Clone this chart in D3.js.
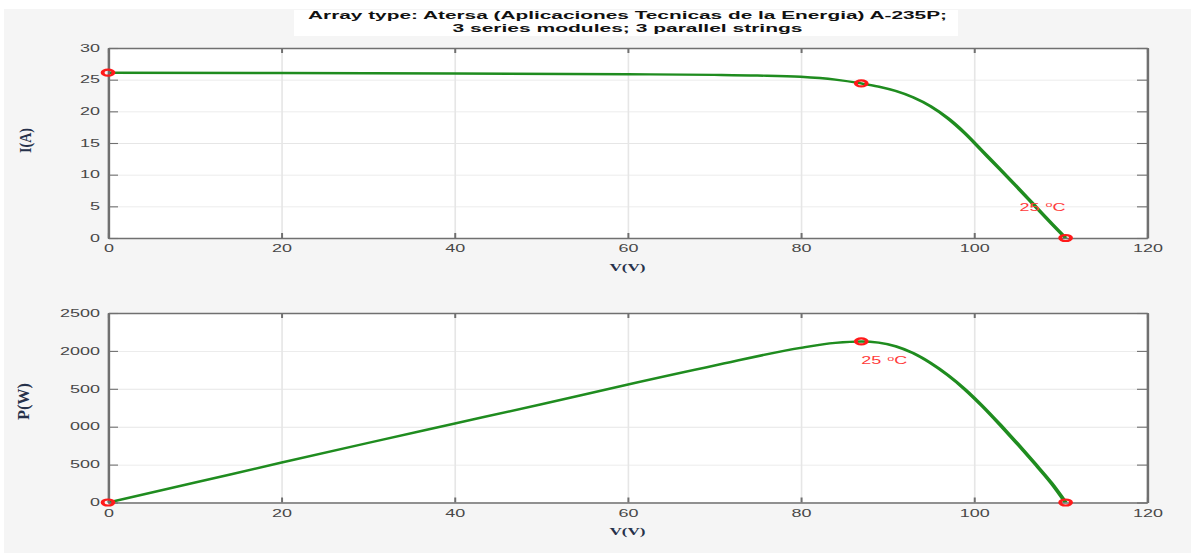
<!DOCTYPE html>
<html><head><meta charset="utf-8">
<script src="https://cdn.jsdelivr.net/npm/d3@7"></script>
<style>html,body{margin:0;padding:0;background:#fff;overflow:hidden}</style>
</head><body>
<svg id="c"></svg>
<script>
// ---------- data ----------
const titleLines = ["Array type: Atersa (Aplicaciones Tecnicas de la Energia) A-235P;", "3 series modules; 3 parallel strings"];
const xTicks = [0, 20, 40, 60, 80, 100, 120];
const iTicks = [0, 5, 10, 15, 20, 25, 30];
const pTicks = [0, 500, 1000, 1500, 2000, 2500];
const pTickLabels = ["0", "500", "000", "500", "2000", "2500"];
const xLabel = "V(V)";
const iLabel = "I(A)";
const pLabel = "P(W)";
const tempText = "25";

// I-V curve
const ivV = [0, 20, 40, 60, 70, 75, 80, 84, 87, 89, 91, 93, 95, 97, 99, 101, 103, 105, 107, 109, 110.6];
const ivI = [26.1, 26.05, 25.98, 25.85, 25.75, 25.65, 25.45, 25.0, 24.4, 23.9, 23.2, 22.2, 20.8, 18.9, 16.5, 13.7, 10.9, 8.05, 5.15, 2.25, 0];
// P-V curve
const pvV = [0, 10, 20, 30, 40, 50, 60, 70, 80, 84, 87, 89, 91, 93, 95, 97, 99, 101, 103, 105, 107, 109, 110.6];
const pvP = [0, 262, 525, 785, 1040, 1295, 1555, 1805, 2040, 2105, 2125, 2110, 2060, 1970, 1840, 1680, 1490, 1270, 1030, 780, 520, 250, 0];
// marked points: short circuit, max power, open circuit
const markV = [0, 87, 110.6];
const markI = [26.1, 24.4, 0];
const markP = [0, 2125, 0];

// ---------- layout ----------
const W = 1191, H = 556, SX = 1.8, Wi = W / SX;
const X = a => a / SX;
const svg = d3.select("#c").attr("width", W).attr("height", H)
  .attr("viewBox", `0 0 ${Wi} ${H}`).attr("preserveAspectRatio", "none");

svg.append("rect").attr("x", X(4)).attr("y", 9).attr("width", Wi).attr("height", 544).attr("fill", "#f5f5f5");
svg.append("rect").attr("x", X(294)).attr("y", 10).attr("width", X(958 - 294)).attr("height", 26).attr("fill", "#fff");

const tl = [{t: titleLines[0], y: 19, w: 639}, {t: titleLines[1], y: 32, w: 350}];
tl.forEach(d => {
  svg.append("text").attr("x", X(627.5)).attr("y", d.y).attr("text-anchor", "middle")
    .attr("font-family", "Liberation Sans, Arial, sans-serif").attr("font-weight", "bold")
    .attr("font-size", 10.5).attr("fill", "#111")
    .attr("textLength", X(d.w)).attr("lengthAdjust", "spacingAndGlyphs").text(d.t);
});

const x = d3.scaleLinear().domain([0, 120]).range([X(108), X(1147)]);
const green = "#1f8c1f";
const axisColor = "#707070";
const tickFont = "Liberation Sans, Arial, sans-serif";

function panel(top, bottom, yDomain, yTickVals, yTickFmt, vs, ys, mv, my, ylabel, ylabelPos, tempPos) {
  const y = d3.scaleLinear().domain(yDomain).range([bottom, top]);
  const g = svg.append("g");
  g.append("rect").attr("x", x(0)).attr("y", top).attr("width", x(120) - x(0)).attr("height", bottom - top).attr("fill", "#fff");
  // grid
  const gx = g.append("g").attr("transform", `translate(0,${bottom})`)
    .call(d3.axisBottom(x).tickValues(xTicks).tickSize(-(bottom - top)).tickFormat(""));
  const gy = g.append("g").attr("transform", `translate(${x(0)},0)`)
    .call(d3.axisLeft(y).tickValues(yTickVals).tickSize(-(x(120) - x(0))).tickFormat(""));
  [gx, gy].forEach(s => { s.select(".domain").remove(); s.selectAll("line").attr("stroke", "#e6e6e6").attr("stroke-width", 0.9); });
  // curve
  const pts = vs.map((v, i) => [v, ys[i]]);
  g.append("path").datum(pts).attr("fill", "none").attr("stroke", green).attr("stroke-width", 2.4)
    .attr("d", d3.line().x(d => x(d[0])).y(d => y(d[1])).curve(d3.curveMonotoneX));
  // axes
  const ab = g.append("g").attr("transform", `translate(0,${bottom})`)
    .call(d3.axisBottom(x).tickValues(xTicks).tickSize(-5).tickSizeOuter(0).tickPadding(7));
  const at = g.append("g").attr("transform", `translate(0,${top})`)
    .call(d3.axisTop(x).tickValues(xTicks).tickSize(-5).tickSizeOuter(0).tickFormat(""));
  const al = g.append("g").attr("transform", `translate(${x(0)},0)`)
    .call(d3.axisLeft(y).tickValues(yTickVals).tickSize(-X(10)).tickSizeOuter(0).tickPadding(X(8)).tickFormat(yTickFmt));
  const ar = g.append("g").attr("transform", `translate(${x(120)},0)`)
    .call(d3.axisRight(y).tickValues(yTickVals).tickSize(-X(10)).tickSizeOuter(0).tickFormat(""));
  [ab, at, al, ar].forEach(s => {
    s.select(".domain").attr("stroke", axisColor).attr("stroke-width", 1.4);
    s.selectAll(".tick line").attr("stroke", axisColor).attr("stroke-width", 1.1);
    s.selectAll("text").attr("font-family", tickFont).attr("font-size", 10).attr("fill", "#484848");
  });
  // markers
  mv.forEach((v, i) => {
    g.append("circle").attr("cx", x(v)).attr("cy", y(my[i])).attr("r", 3.0)
      .attr("fill", "none").attr("stroke", "#ff1a1a").attr("stroke-width", 2.2);
  });
  // temperature label
  const tt = g.append("text").attr("x", x(tempPos.v) + X(tempPos.dx)).attr("y", y(tempPos.val) + tempPos.dy)
    .attr("font-family", tickFont).attr("font-size", 10).attr("fill", "#ff3b3b").text(tempText);
  tt.append("tspan").attr("dx", X(6)).attr("dy", -3.5).attr("font-size", 7).text("o");
  tt.append("tspan").attr("dy", 3.5).text("C");
  // x label
  g.append("text").attr("x", x(60)).attr("y", bottom + 33).attr("text-anchor", "middle")
    .attr("font-family", "Liberation Serif, Times New Roman, serif").attr("font-weight", "bold")
    .attr("font-size", 10).attr("fill", "#26314a").attr("textLength", X(36)).attr("lengthAdjust", "spacingAndGlyphs").text(xLabel);
  // y label
  g.append("text").attr("transform", `translate(${X(ylabelPos.x)},${ylabelPos.y}) rotate(-90)`)
    .attr("text-anchor", "middle").attr("font-family", "Liberation Serif, Times New Roman, serif").attr("font-weight", "bold")
    .attr("font-size", 9).attr("fill", "#26314a").attr("textLength", ylabelPos.len).attr("lengthAdjust", "spacingAndGlyphs").text(ylabel);
  return y;
}

panel(48, 238, [0, 30], iTicks, d3.format("d"), ivV, ivI, markV, markI, iLabel,
  {x: 31, y: 140.5, len: 25}, {v: markV[2], val: 0, dx: -46, dy: -27});
panel(313, 502.5, [0, 2500], pTicks, (d, i) => pTickLabels[pTicks.indexOf(d)], pvV, pvP, markV, markP, pLabel,
  {x: 29, y: 401.5, len: 37}, {v: markV[1], val: markP[1], dx: 0, dy: 23});
</script>
</body></html>
